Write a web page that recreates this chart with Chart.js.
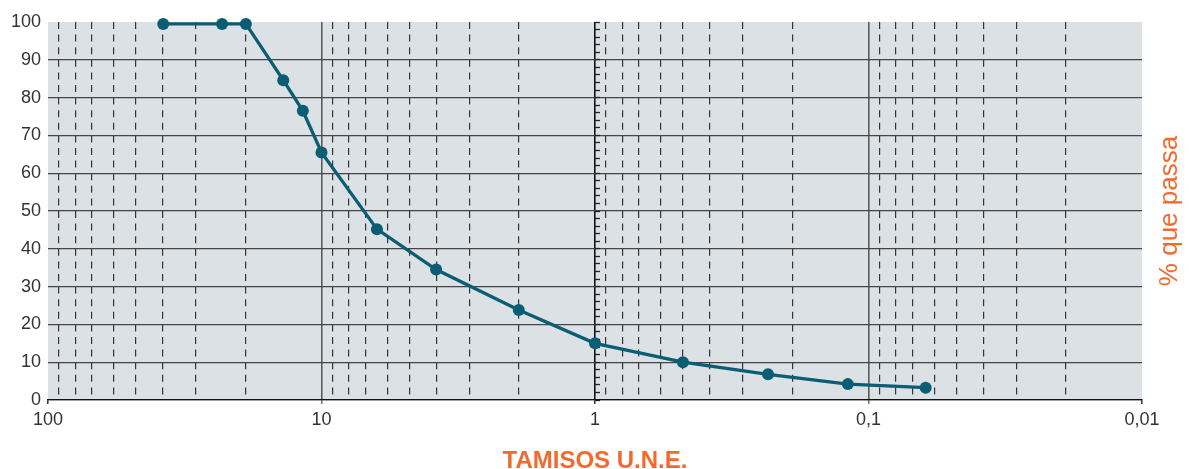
<!DOCTYPE html>
<html>
<head>
<meta charset="utf-8">
<title>Tamisos U.N.E.</title>
<script src="https://cdn.jsdelivr.net/npm/chart.js@4/dist/chart.umd.min.js"></script>
<style>
  html, body { margin: 0; padding: 0; background: #fff; }
  #wrap { width: 1189px; height: 469px; }
</style>
</head>
<body>
<div id="wrap"><canvas id="granulo"></canvas></div>
<script>
// sieve opening (mm) and % passing
const sieveSizes = [37.9, 23.1, 18.9, 13.8, 11.7, 10, 6.27, 3.81, 1.9, 1, 0.477, 0.233, 0.119, 0.0618];
const passing = [99.5, 99.5, 99.5, 84.6, 76.5, 65.5, 45.2, 34.5, 23.8, 15.0, 10.0, 6.8, 4.2, 3.25];

// labelled decades on the x axis
const decadeTicks = [100, 10, 1, 0.1, 0.01];
// dashed guide lines inside each decade
const guideTicks = [
  91.2, 79.4, 69.1, 57.5, 47.8, 38.0, 28.8, 19.0,
  9.12, 7.94, 6.91, 5.75, 4.78, 3.80, 2.88, 1.90,
  0.912, 0.794, 0.691, 0.575, 0.478, 0.380, 0.288, 0.190,
  0.0912, 0.0794, 0.0691, 0.0575, 0.0478, 0.0380, 0.0288, 0.0190
];
const yTicks = [0, 10, 20, 30, 40, 50, 60, 70, 80, 90, 100];

const ORANGE = '#f26a2e';
const TEAL = '#0a5d72';
const FONT = 'Liberation Sans, Arial, Helvetica, sans-serif';

const isDecade = (v) => decadeTicks.some(d => Math.abs(Math.log10(v) - Math.log10(d)) < 1e-6);

const plotBackground = {
  id: 'plotBackground',
  beforeDraw(chart) {
    const { ctx, chartArea: a } = chart;
    ctx.save();
    ctx.fillStyle = '#dce1e5';
    ctx.fillRect(a.left, a.top, a.right - a.left, a.bottom - a.top);
    ctx.restore();
  }
};

// right-hand title, reading bottom to top
const rightTitle = {
  id: 'rightTitle',
  afterDraw(chart) {
    const { ctx, chartArea: a } = chart;
    ctx.save();
    ctx.translate(1170, (a.top + a.bottom) / 2);
    ctx.rotate(-Math.PI / 2);
    ctx.font = '26px ' + FONT;
    ctx.fillStyle = ORANGE;
    ctx.textAlign = 'center';
    ctx.textBaseline = 'middle';
    ctx.fillText('% que passa', 0, 0);
    ctx.restore();
  }
};

new Chart(document.getElementById('granulo'), {
  type: 'line',
  data: {
    datasets: [{
      data: sieveSizes.map((s, i) => ({ x: s, y: passing[i] })),
      borderColor: TEAL,
      backgroundColor: TEAL,
      borderWidth: 3.3,
      pointRadius: 6,
      pointBackgroundColor: TEAL,
      pointBorderWidth: 0,
      tension: 0,
      clip: false
    }]
  },
  options: {
    responsive: true,
    maintainAspectRatio: false,
    animation: false,
    layout: { padding: { left: 0, right: 47, top: 22, bottom: 0 } },
    plugins: {
      legend: { display: false },
      tooltip: { enabled: false }
    },
    scales: {
      x: {
        type: 'logarithmic',
        reverse: true,
        min: 0.01,
        max: 100,
        afterBuildTicks: (scale) => {
          scale.ticks = decadeTicks.concat(guideTicks)
            .sort((a, b) => b - a)
            .map(v => ({ value: v }));
        },
        afterFit: (scale) => { scale.height = 69; },
        ticks: {
          autoSkip: false,
          maxRotation: 0,
          padding: 5,
          color: '#333',
          font: { family: FONT, size: 18 },
          callback: (v) => isDecade(v) ? String(v).replace('.', ',') : ''
        },
        grid: {
          tickLength: 4,
          color: (c) => {
            if (!c.tick) return 'transparent';
            const v = c.tick.value;
            if (v === 100 || v === 0.01) return 'transparent';
            if (v === 1) return '#111';
            return isDecade(v) ? '#5c5c5c' : '#333';
          },
          lineWidth: (c) => (c.tick && isDecade(c.tick.value)) ? 1.6 : 1.2,
          tickColor: (c) => {
            if (!c.tick || !isDecade(c.tick.value)) return 'transparent';
            const v = c.tick.value;
            return (v === 10 || v === 0.1) ? '#5c5c5c' : '#111';
          },
          tickWidth: 1.3
        },
        border: {
          display: true,
          color: '#111',
          width: 1.3,
          dash: (c) => (c.tick && !isDecade(c.tick.value)) ? [7, 5.6] : []
        },
        title: {
          display: true,
          text: 'TAMISOS U.N.E.',
          color: ORANGE,
          font: { family: FONT, size: 24, weight: 'bold', lineHeight: 1 },
          padding: { top: 0, bottom: -4 }
        }
      },
      y: {
        min: 0,
        max: 100,
        afterBuildTicks: (scale) => {
          scale.ticks = yTicks.map(v => ({ value: v }));
        },
        afterFit: (scale) => { scale.width = 48; },
        ticks: {
          padding: 7,
          color: '#333',
          font: { family: FONT, size: 18 }
        },
        grid: {
          drawTicks: false,
          color: (c) => (c.tick && c.tick.value === 100) ? 'transparent' : '#454545',
          lineWidth: 1.3
        },
        border: { display: false }
      },
      ruler: {
        axis: 'y',
        position: { x: 1 },
        min: 0,
        max: 100,
        ticks: { display: false, stepSize: 2 },
        grid: {
          drawOnChartArea: false,
          drawTicks: true,
          tickLength: -5,
          tickColor: '#222',
          tickWidth: 1.3
        },
        border: { display: false }
      }
    }
  },
  plugins: [plotBackground, rightTitle]
});
</script>
</body>
</html>
